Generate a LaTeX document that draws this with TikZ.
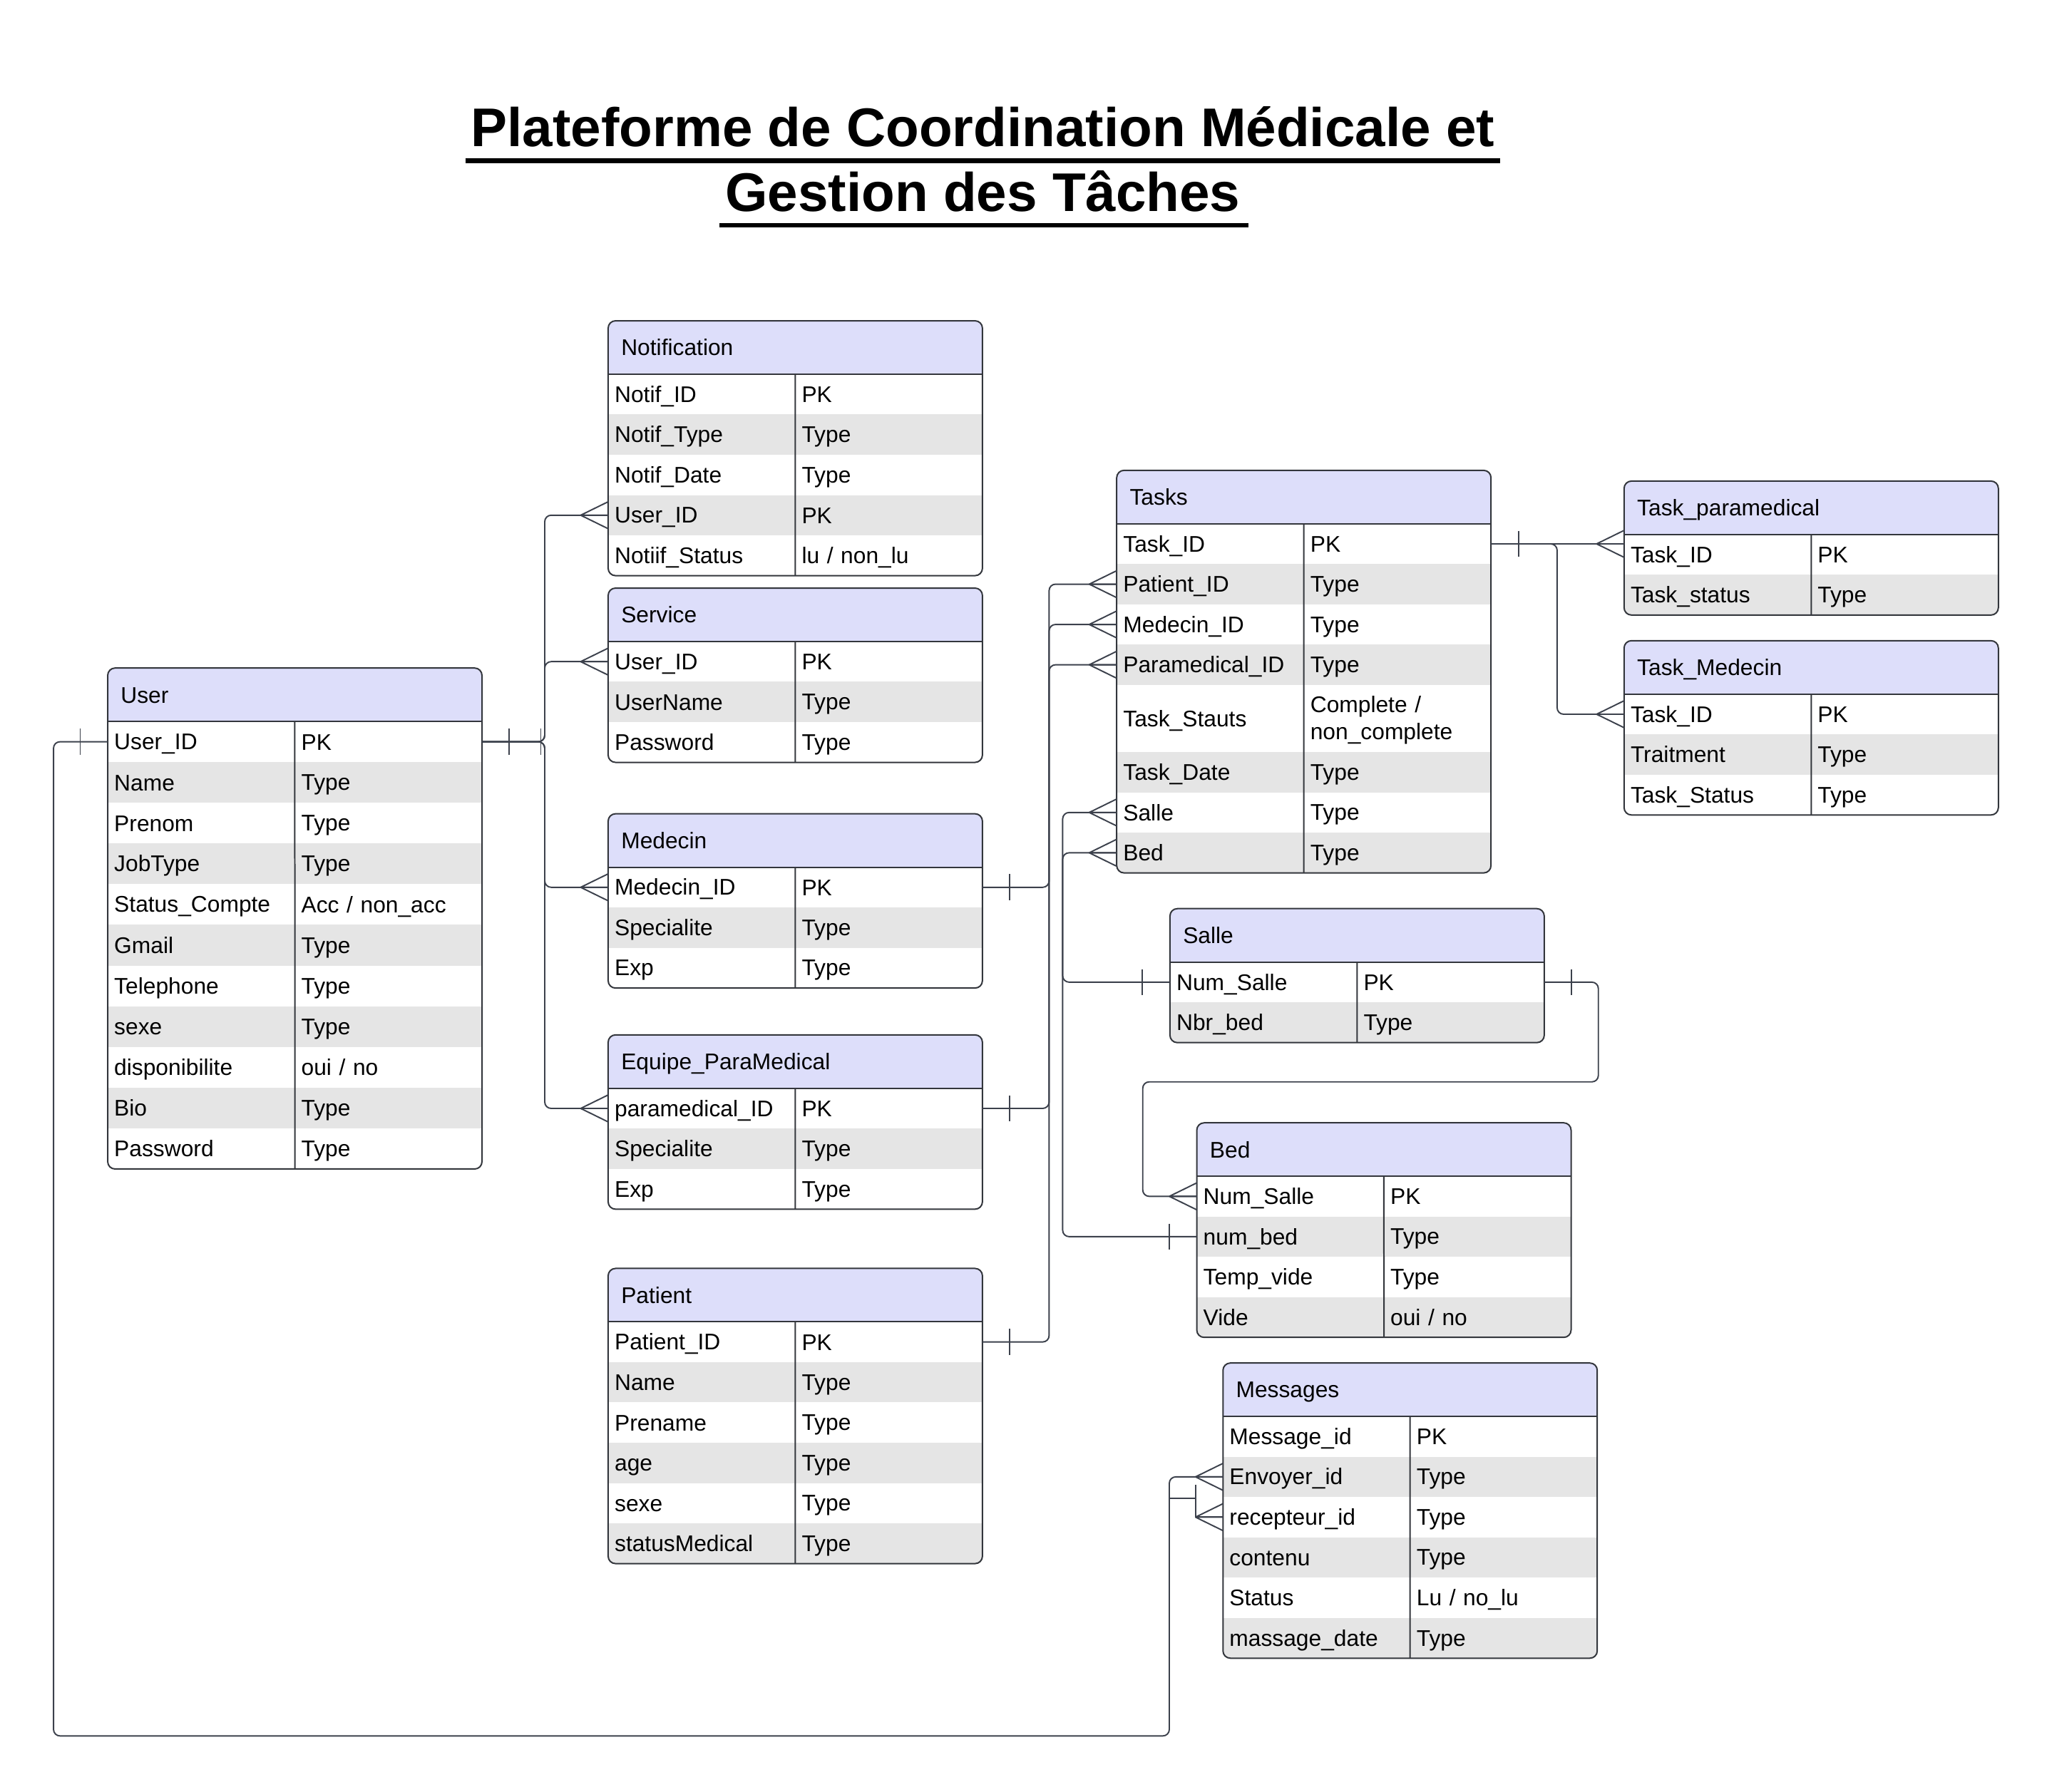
\documentclass[tikz,border=0pt]{standalone}
\usepackage{fontspec}
\setmainfont{Liberation Sans}
\usetikzlibrary{calc}

\definecolor{headfill}{RGB}{221,222,250}
\definecolor{rowgray}{RGB}{229,229,229}
\definecolor{framecol}{RGB}{51,54,60}
\definecolor{relcol}{RGB}{60,65,76}

\newcommand\erfont{\fontsize{9.85}{11.8}\selectfont}
\newcommand\titlefont{\fontsize{23.7}{28}\selectfont\bfseries}
\newcommand\rs{\rule[-0.18em]{0pt}{1.08em}}
\def\rowh{30.8}

% #1 tall row, #2 name, #3 left, #4 top, #5 title, #6 rows
\newcommand{\ertable}[6][0]{%
  \pgfmathsetmacro\tbot{#4+40.8}%
  \foreach \fname/\ftype [count=\rowno] in {#6}{%
    \pgfmathsetmacro\rh{\rowno==#1 ? 51.3 : \rowh}%
    \pgfmathsetmacro\nb{\tbot+\rh}\global\let\tbot\nb}%
  \begin{scope}
    \clip[rounded corners=3.2pt] (#3,#4) rectangle (#3+286,\tbot);
    \node[erhead] (#2) at (#3,#4) {\rs#5};
    \pgfmathsetmacro\ry{#4+40.8}%
    \foreach \fname/\ftype [count=\rowno] in {#6}{%
      \pgfmathsetmacro\rh{\rowno==#1 ? 51.3 : \rowh}%
      \pgfmathsetmacro\rhc{\rh*0.02}%
      \ifodd\rowno\def\rfill{white}\else\def\rfill{rowgray}\fi
      \node[ercell, fill=\rfill, minimum height=\rhc cm] (#2-\rowno) at (#3,\ry) {\rs\fname};
      \node[ercell, fill=\rfill, minimum height=\rhc cm] (#2-\rowno-t) at (#2-\rowno.north east) {\rs\ftype};
      \pgfmathsetmacro\nb{\ry+\rh}\global\let\ry\nb}%
  \end{scope}
  \draw[erline] (#2.south west) -- (#2.south east);
  \draw[erline] (#2-1-t.north west) -- (#3+143,\tbot);
  \draw[erframe] (#3,#4) rectangle (#3+286,\tbot);
}

\begin{document}
\begin{tikzpicture}[x=0.02cm, y=-0.02cm,
  ercell/.style={inner xsep=0.1cm, inner ysep=0pt, outer sep=0pt, text width=2.66cm, align=left, font=\erfont, anchor=north west},
  erhead/.style={fill=headfill, inner xsep=0.2cm, inner ysep=0pt, outer sep=0pt, text width=5.32cm, minimum height=0.816cm, align=left, font=\erfont, anchor=north west},
  erline/.style={draw=framecol, line width=0.62pt},
  erframe/.style={erline, rounded corners=3.2pt},
  rel/.style={draw=relcol, line width=0.6pt, rounded corners=2.8pt},
  crow/.pic={\draw[rel] (-21,0) -- (0,-10.3) (-21,0) -- (0,10.3) (-21,0) -- (0,0);},
  onebar/.pic={\draw[rel] (0,-10) -- (0,10);},
  titletext/.style={font=\titlefont, inner sep=0pt},
  uline/.style={line width=2.05pt}]

\useasboundingbox (0,0) rectangle (1568,1369.2);

%TITLE
\node[titletext, anchor=base] (title1) at (751,112.2) {Plateforme de Coordination Médicale et};
\node[titletext, anchor=base] (title2) at (751,161.6) {Gestion des Tâches};
\draw[uline] ($(title1.base west)+(-4,10.6)$) -- ($(title1.base east)+(4,10.6)$);
\draw[uline] ($(title2.base west)+(-4,10.6)$) -- ($(title2.base east)+(6,10.6)$);

%TABLES
\def\rowh{31.1}
\ertable{user}{82.3}{510.6}{User}{User\_ID/PK, Name/Type, Prenom/Type, JobType/Type, Status\_Compte/{Acc / non\_acc}, Gmail/Type, Telephone/Type, sexe/Type, disponibilite/{oui / no}, Bio/Type, Password/Type}
\def\rowh{30.8}
\ertable{notif}{464.7}{245.2}{Notification}{Notif\_ID/PK, Notif\_Type/Type, Notif\_Date/Type, User\_ID/PK, Notiif\_Status/{lu / non\_lu}}
\ertable{serv}{464.7}{449.5}{Service}{User\_ID/PK, UserName/Type, Password/Type}
\ertable{med}{464.7}{622}{Medecin}{Medecin\_ID/PK, Specialite/Type, Exp/Type}
\ertable{para}{464.7}{791}{Equipe\_ParaMedical}{paramedical\_ID/PK, Specialite/Type, Exp/Type}
\ertable{pat}{464.7}{969.5}{Patient}{Patient\_ID/PK, Name/Type, Prename/Type, age/Type, sexe/Type, statusMedical/Type}
\ertable[5]{task}{853.3}{359.5}{Tasks}{Task\_ID/PK, Patient\_ID/Type, Medecin\_ID/Type, Paramedical\_ID/Type, Task\_Stauts/{Complete /\\\rs non\_complete}, Task\_Date/Type, Salle/Type, Bed/Type}
\ertable{tpara}{1241}{367.7}{Task\_paramedical}{Task\_ID/PK, Task\_status/Type}
\ertable{tmed}{1241}{489.7}{Task\_Medecin}{Task\_ID/PK, Traitment/Type, Task\_Status/Type}
\ertable{salle}{894}{694.5}{Salle}{Num\_Salle/PK, Nbr\_bed/Type}
\ertable{bed}{914.5}{858.2}{Bed}{Num\_Salle/PK, num\_bed/Type, Temp\_vide/Type, Vide/{oui / no}}
\ertable{msg}{934.5}{1041.8}{Messages}{Message\_id/PK, Envoyer\_id/Type, recepteur\_id/Type, contenu/Type, Status/{Lu / no\_lu}, massage\_date/Type}

%USER LINKS
\draw[rel] (user-1-t.east) -- ++(48,0) |- (notif-4.west);
\draw[rel] (user-1-t.east) -- ++(48,0) |- (serv-1.west);
\draw[rel] (user-1-t.east) -- ++(48,0) |- (med-1.west);
\draw[rel] (user-1-t.east) -- ++(48,0) |- (para-1.west);
\pic at ($(user-1-t.east)+(21,0)$) {onebar};
\pic at ($(user-1-t.east)+(45,0)$) {onebar};
\pic at (notif-4.west) {crow};
\pic at (serv-1.west) {crow};
\pic at (med-1.west) {crow};
\pic at (para-1.west) {crow};

%TASK LINKS
\draw[rel] (pat-1-t.east) -- ++(51,0) |- (task-2.west);
\draw[rel] (med-1-t.east) -- ++(51,0) |- (task-3.west);
\draw[rel] (para-1-t.east) -- ++(51,0) |- (task-4.west);
\pic at ($(pat-1-t.east)+(21,0)$) {onebar};
\pic at ($(med-1-t.east)+(21,0)$) {onebar};
\pic at ($(para-1-t.east)+(21,0)$) {onebar};
\pic at (task-2.west) {crow};
\pic at (task-3.west) {crow};
\pic at (task-4.west) {crow};

\draw[rel] (salle-1.west) -- ++(-82,0) |- (task-7.west);
\draw[rel] (bed-2.west) -- ++(-102.5,0) |- (task-8.west);
\pic at ($(salle-1.west)+(-21,0)$) {onebar};
\pic at ($(bed-2.west)+(-21,0)$) {onebar};
\pic at (task-7.west) {crow};
\pic at (task-8.west) {crow};

\draw[rel] (task-1-t.east) -- (tpara-1.west |- task-1-t.east);
\draw[rel] (task-1-t.east) -- ++(50.6,0) |- (tmed-1.west);
\pic at ($(task-1-t.east)+(21,0)$) {onebar};
\pic at (tpara-1.west |- task-1-t.east) {crow};
\pic at (tmed-1.west) {crow};

%SALLE - BED
\draw[rel] (salle-1-t.east) -- ++(41.4,0) |- ($(bed-1.west)+(-41.3,-87.5)$) |- (bed-1.west);
\pic at ($(salle-1-t.east)+(21,0)$) {onebar};
\pic at (bed-1.west) {crow};

%MESSAGES
\draw[rel] (user-1.west) -- ++(-41.4,0) |- ($(msg-2.west)+(-41,198)$) |- (msg-2.west);
\draw[rel] ($(msg-2.west)+(-41,16.6)$) -- ++(20,0);
\draw[rel, sharp corners] ($(msg-3.west)+(-21,-24.6)$) -- ($(msg-3.west)+(-21,0)$) -- (msg-3.west);
\pic at ($(user-1.west)+(-21,0)$) {onebar};
\pic at (msg-2.west) {crow};
\pic at (msg-3.west) {crow};

\end{tikzpicture}
\end{document}
